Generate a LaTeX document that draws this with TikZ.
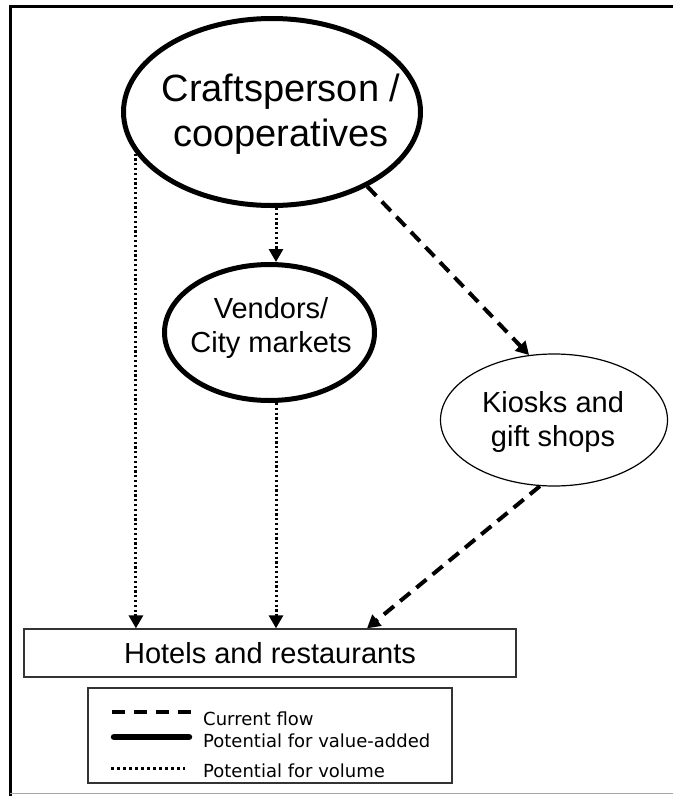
\documentclass[tikz,border=0pt]{standalone}
\usepackage{fontspec}
\setmainfont{Liberation Sans}
\newfontfamily\legendfont{DejaVu Sans}
\usetikzlibrary{arrows.meta,shapes.geometric}
\begin{document}
\begin{tikzpicture}[x=1pt,y=-1pt,
  tipped/.style={-{Triangle[length=13pt,width=14pt]}},
  dotflow/.style={tipped, line width=3pt, dash pattern=on 2.2pt off 2.6pt},
  curflow/.style={tipped, line width=4pt, dash pattern=on 13pt off 8pt},
  strongell/.style={ellipse, draw, line width=5pt, inner sep=0pt},
  thinell/.style={ellipse, draw, line width=1.2pt, inner sep=0pt},
  bigtext/.style={font=\fontsize{38}{45}\selectfont, align=center, inner sep=0pt},
  midtext/.style={font=\fontsize{29}{34}\selectfont, align=center, inner sep=0pt},
  legtext/.style={font=\legendfont\fontsize{18}{22}\selectfont, anchor=base west, inner sep=0pt},
  boxstyle/.style={draw=black!80, line width=1.3pt, inner sep=0pt},
]
\useasboundingbox (0,0) rectangle (673,796);
\fill[white] (0,0) rectangle (673,796);

% frame
\draw[line width=3pt] (9,6.5) -- (673,6.5);
\draw[line width=3pt] (10.5,5) -- (10.5,796);
\draw[black!35, line width=1.5pt] (10,793.5) -- (673,793.5);

% nodes
\node[strongell, minimum width=297pt, minimum height=187pt] (craft) at (272,112) {};
\node[bigtext] (crafttxt) at (281,114.5) {Craftsperson /\\cooperatives};

\node[strongell, minimum width=210pt, minimum height=136pt] (vend) at (269.5,332.5) {};
\node[midtext] (vendtxt) at (271,327.5) {Vendors/\\City markets};

\node[thinell, minimum width=227pt, minimum height=132pt] (kiosk) at (554,420) {};
\node[midtext] (kiosktxt) at (553,421.5) {Kiosks and\\gift shops};

\node[boxstyle, minimum width=492pt, minimum height=48pt, font=\fontsize{29}{34}\selectfont] (hotels) at (270,653) {Hotels and restaurants};

% helper coordinates
\coordinate (midx) at (276,0);
\coordinate (kdx) at (367,0);

% connectors
\draw[dotflow] (craft.197) -- (craft.197 |- hotels.north);
\draw[dotflow] (craft.south -| midx) -- (vend.north -| midx);
\draw[dotflow] (vend.south -| midx) -- (hotels.north -| midx);
\draw[curflow] (craft.322) -- (kiosk.111);
\draw[curflow] (kiosk.258) -- (hotels.north -| kdx);

% legend
\node[boxstyle, minimum width=364pt, minimum height=95pt] (legend) at (270,735.5) {};
\draw[line width=4pt, dash pattern=on 13pt off 9pt] (112,712) -- (191,712);
\draw[line width=6.5pt, line cap=round] (114,737) -- (189,737);
\draw[line width=2.5pt, dash pattern=on 2.5pt off 3.5pt] (111,768.5) -- (185,768.5);
\node[legtext] (l1) at (203,725) {Current flow};
\node[legtext] (l2) at (203,747) {Potential for value-added};
\node[legtext] (l3) at (203,777) {Potential for volume};
\end{tikzpicture}
\end{document}
